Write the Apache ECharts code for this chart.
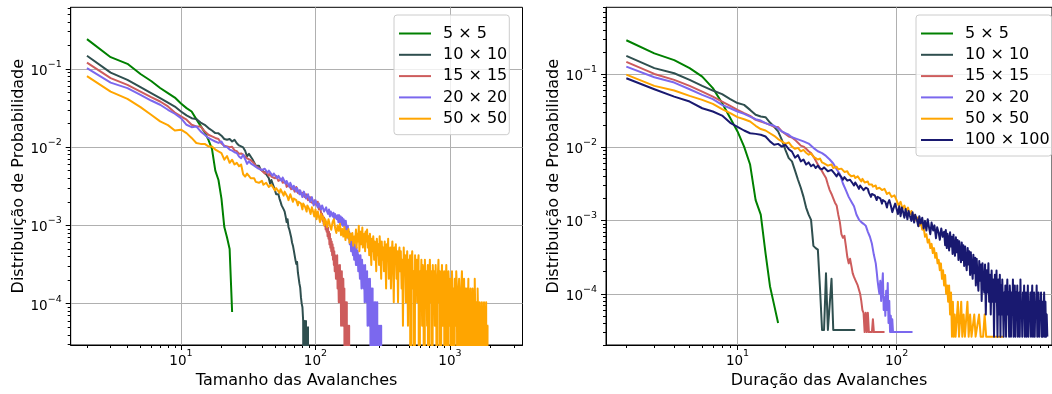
<!DOCTYPE html>
<html><head><meta charset="utf-8">
<script src="https://cdn.jsdelivr.net/npm/echarts@6/dist/echarts.min.js"></script>
<style>html,body{margin:0;padding:0;background:#fff}#c{width:1052px;height:394px}</style>
</head><body><div id="c"></div>
<script>
// ---------- DATA: [avalanche size / duration, probability]  (0 = empty bin) ----------
const L_5x5 = [[2,0.24],[3,0.141],[4,0.116],[5,0.086],[6,0.070],[7,0.057],[8,0.049],[9,0.043],[10,0.036],[11,0.0315],[12,0.0285],[13,0.0228],[14,0.0187],[15,0.0155],[16,0.0124],[17,0.0095],[18,0.0050],[19,0.0038],[20,0.0022],[21,0.00095],[22,0.00070],[23,0.00050],[24,0.000078]];
const L_10x10 = [[2,0.147],[3,0.0897],[4,0.0724],[5,0.0584],[6,0.049],[7,0.0423],[8,0.0371],[9,0.033],[10,0.0285],[11,0.0254],[12,0.0234],[13,0.0228],[14,0.0206],[15,0.0193],[16,0.0175],[17,0.0163],[18,0.0151],[19,0.0150],[20,0.0140],[21,0.0127],[22,0.0124],[23,0.0127],[24,0.0118],[25,0.0124],[26,0.0112],[27,0.0105],[28,0.0102],[29,0.0099],[30,0.0090],[31,0.0076],[32,0.0082],[33,0.0080],[34,0.0070],[35,0.0066],[36,0.0058],[37,0.0057],[38,0.0058],[39,0.0052],[40,0.0054],[41,0.0049],[42,0.0050],[43,0.0045],[44,0.0047],[45,0.0040],[46,0.0034],[47,0.0038],[48,0.0040],[49,0.0031],[50,0.0028],[51,0.0025],[52,0.0024],[53,0.0025],[54,0.0022],[55,0.0020],[56,0.0018],[57,0.0019],[58,0.0016],[59,0.0015],[60,0.0013],[61,0.0011],[62,0.0012],[63,0.00095],[64,0.00088],[65,0.0009],[66,0.0007],[67,0.0006],[68,0.00055],[69,0.00048],[70,0.0005],[71,0.00036],[72,0.00032],[73,0.00034],[74,0.00025],[75,0.00024],[76,0.00018],[77,0.00016],[78,0.00012],[79,0.0001],[80,0.00009],[81,0.00006],[82,0],[83,0.00006],[84,0],[85,0.00006],[86,0],[87,0],[88,0.00005],[89,0],[90,0]];
const L_15x15 = [[2,0.12],[3,0.076],[4,0.0625],[5,0.0513],[6,0.0435],[7,0.0383],[8,0.0331],[9,0.0277],[10,0.0247],[11,0.0224],[12,0.0193],[13,0.0184],[14,0.0184],[15,0.0159],[16,0.0144],[17,0.0137],[18,0.0131],[19,0.0127],[20,0.0111],[21,0.0104],[22,0.0102],[23,0.0100],[24,0.0101],[25,0.0091],[26,0.0089],[27,0.0082],[28,0.0083],[29,0.0080],[30,0.0076],[31,0.0072],[32,0.0071],[33,0.0068],[34,0.0070],[35,0.0062],[36,0.0057],[37,0.0058],[38,0.0054],[39,0.0056],[40,0.0050],[41,0.0052],[42,0.0046],[43,0.0049],[44,0.0048],[45,0.0043],[46,0.0046],[47,0.0042],[48,0.0044],[50,0.0040],[51,0.0043],[53,0.0037],[54,0.0036],[56,0.0039],[57,0.0035],[58,0.0034],[60,0.0036],[61,0.0031],[63,0.0033],[64,0.0034],[66,0.0029],[67,0.0030],[68,0.0031],[70,0.0027],[72,0.0031],[73,0.0028],[74,0.0026],[76,0.0028],[77,0.0025],[78,0.0024],[80,0.0026],[82,0.0025],[83,0.0023],[85,0.0025],[86,0.0024],[88,0.0021],[89,0.0022],[91,0.0023],[92,0.0020],[94,0.0021],[95,0.0020],[97,0.0019],[98,0.0021],[100,0.0021],[102,0.0018],[104,0.0020],[106,0.0016],[108,0.00175],
 [110,1.456e-3],[111,1.248e-3],[112,1.404e-3],[113,1.144e-3],[114,1.3e-3],[115,1.04e-3],[116,1.248e-3],[117,9.88e-4],[118,1.144e-3],[119,8.84e-4],[120,1.092e-3],[121,8.32e-4],[122,9.88e-4],[123,7.28e-4],[124,9.36e-4],[125,6.76e-4],[126,8.32e-4],[127,5.72e-4],[128,7.8e-4],[129,5.2e-4],[130,6.76e-4],[131,4.68e-4],[132,6.24e-4],[133,4.16e-4],[134,5.72e-4],[135,3.64e-4],[136,5.2e-4],[137,3.12e-4],[138,4.68e-4],[139,2.6e-4],[140,4.16e-4],[141,3.12e-4],[142,2.08e-4],[143,3.64e-4],[144,2.6e-4],[145,4.16e-4],[146,1.56e-4],[147,3.12e-4],[148,2.08e-4],[149,1.04e-4],[150,2.6e-4],[151,1.56e-4],[152,3.12e-4],[153,1.04e-4],[154,2.08e-4],[155,5.2e-5],[156,1.56e-4],[157,2.6e-4],[158,1.04e-4],[159,1.56e-4],[160,5.2e-5],[161,2.08e-4],[162,1.04e-4],[163,5.2e-5],[164,1.56e-4],[165,0],[166,1.04e-4],[167,5.2e-5],[168,1.04e-4],[169,0],[170,5.2e-5],[171,1.04e-4],[172,0],[173,5.2e-5],[174,0],[175,5.2e-5],[176,0],[177,0],[178,5.2e-5],[179,0]];
const L_20x20 = [[2,0.102],[3,0.0668],[4,0.0568],[5,0.0466],[6,0.0394],[7,0.0348],[8,0.030],[9,0.0267],[10,0.0235],[11,0.0193],[12,0.0180],[13,0.0184],[14,0.0159],[15,0.0144],[16,0.0131],[17,0.0124],[18,0.0118],[19,0.0113],[20,0.0118],[21,0.0102],[22,0.0100],[23,0.0093],[24,0.0090],[25,0.0086],[26,0.0084],[27,0.0076],[28,0.0072],[29,0.0080],[30,0.0070],[31,0.0061],[32,0.0066],[33,0.0062],[34,0.0065],[35,0.0058],[36,0.0057],[37,0.0054],[38,0.0056],[40,0.0051],[41,0.0054],[42,0.0053],[44,0.0047],[45,0.0050],[46,0.0049],[48,0.0043],[49,0.0046],[50,0.0045],[52,0.0040],[53,0.0043],[54,0.0042],[56,0.0037],[57,0.0041],[58,0.0040],[60,0.0034],[61,0.0037],[62,0.0036],[64,0.0031],[65,0.0035],[66,0.0034],[68,0.0029],[69,0.0032],[70,0.0031],[72,0.0027],[73,0.0030],[74,0.0029],[76,0.0025],[77,0.0028],[78,0.0027],[80,0.0023],[82,0.0027],[83,0.0026],[85,0.0022],[86,0.0021],[88,0.0025],[89,0.0024],[91,0.0020],[92,0.0021],[94,0.0023],[95,0.0022],[97,0.0018],[98,0.0019],[100,0.0021],[102,0.0019],[104,0.0017],[106,0.0019],[108,0.0018],[110,0.0016],[112,0.0018],[114,0.0017],[116,0.0015],[118,0.0016],[120,0.0017],[122,0.0015],[124,0.0014],[126,0.0016],[128,0.0013],[130,0.0015],[132,0.0014],[134,0.0013],[136,0.00145],[138,0.0012],[140,0.0014],[142,0.0013],[144,0.0012],[146,0.00135],[148,0.0011],
 [150,1.352e-3],[152,1.092e-3],[154,1.3e-3],[156,1.04e-3],[158,1.248e-3],[160,9.88e-4],[162,1.196e-3],[164,1.092e-3],[166,8.84e-4],[168,1.144e-3],[170,9.36e-4],[172,7.8e-4],[174,9.88e-4],[176,6.76e-4],[178,8.32e-4],
 [180,5.72e-4],[182,7.8e-4],[184,4.68e-4],[186,6.76e-4],[188,5.2e-4],[190,4.16e-4],[192,6.24e-4],[194,3.64e-4],[196,5.72e-4],[198,4.16e-4],[200,3.12e-4],[202,5.2e-4],[204,3.12e-4],[206,4.68e-4],[208,2.6e-4],[210,4.16e-4],[212,3.12e-4],[214,2.08e-4],[216,4.16e-4],[218,2.6e-4],[220,1.56e-4],[222,3.64e-4],[224,2.08e-4],[226,3.12e-4],[228,1.56e-4],[230,2.6e-4],[232,1.04e-4],[234,3.12e-4],[236,1.56e-4],[238,2.08e-4],[240,1.04e-4],[242,2.6e-4],[244,5.2e-5],[246,2.08e-4],[248,1.04e-4],[250,1.56e-4],[252,5.2e-5],[254,2.08e-4],[256,1.04e-4],[258,0],[260,1.56e-4],[262,5.2e-5],[264,1.04e-4],[266,1.56e-4],[268,0],[270,1.04e-4],[272,5.2e-5],[274,1.04e-4],[276,0],[278,5.2e-5],[280,1.04e-4],[282,0],[284,5.2e-5],[286,0],[288,1.04e-4],[290,0],[292,5.2e-5],[294,0],[296,5.2e-5],[298,0],[300,0],[302,5.2e-5],[304,0],[306,0],[308,5.2e-5],[310,0],[312,0]];
const L_50x50 = [[2,0.0807],[3,0.0513],[4,0.0414],[5,0.0324],[6,0.0259],[7,0.0213],[8,0.0191],[9,0.0163],[10,0.0167],[11,0.0151],[12,0.0131],[13,0.0113],[14,0.0110],[15,0.0110],[16,0.0102],[17,0.0102],[18,0.0093],[19,0.0088],[20,0.0084],[21,0.0069],[22,0.0077],[23,0.0063],[24,0.0069],[25,0.0060],[26,0.0063],[27,0.0057],[28,0.0060],[29,0.0045],[30,0.0042],[31,0.0046],[32,0.0043],[33,0.0040],[34,0.0038],[35,0.0040],[36,0.0036],[37,0.0038],[38,0.0035],[39,0.0036],[40,0.0037],[41,0.0033],[42,0.0032],[43,0.0035],[44,0.0034],[45,0.0031],[46,0.0030],[47,0.0033],[48,0.0032],[50,0.0028],[51,0.0030],[52,0.0031],[54,0.0026],[55,0.0029],[56,0.0028],[58,0.0024],[59,0.0027],[60,0.0026],[62,0.0023],[63,0.0021],[65,0.0025],[66,0.0024],[68,0.0020],[69,0.0022],[71,0.0023],[72,0.0021],[74,0.0018],[75,0.0020],[77,0.0021],[78,0.0019],[80,0.0016],[81,0.0019],[83,0.0020],[84,0.0017],[86,0.0015],[87,0.0018],[89,0.0019],[90,0.0016],[92,0.0014],[94,0.0017],[96,0.0015],[98,0.0013],[100,0.0016],[102,0.0012],[104,0.0015],[106,0.0013],[108,0.0011],[110,0.0014],[112,0.0012],[114,0.0013],[116,0.0010],[118,0.0012],[120,0.0011],[122,0.00095],[125,0.0012],[128,0.0010],[131,0.00088],[134,0.0011],[137,0.0012],[140,0.00092],[143,0.0008],[146,0.001],[149,0.00085],[152,0.00105],[155,0.00075],[158,0.0009],[161,0.00072],[164,0.00095],[167,0.00065],[170,0.00085],[173,0.0007],[176,0.0009],[179,0.0006],[182,0.00078],[185,0.00065],[188,0.0008],[191,0.00055],[194,0.00072],[197,0.0006],
 [200,8.84e-4],[202,5.2e-4],[205,7.8e-4],[207,6.24e-4],[210,9.88e-4],[212,4.68e-4],[215,7.28e-4],[217,8.32e-4],[220,5.72e-4],[223,9.36e-4],[225,5.2e-4],[228,6.76e-4],[231,7.8e-4],[234,4.68e-4],[236,8.32e-4],[239,6.24e-4],[242,8.84e-4],[245,5.2e-4],[248,7.28e-4],
 [251,4.16e-4],[254,7.8e-4],[257,5.72e-4],[260,3.12e-4],[263,6.76e-4],[266,4.68e-4],[269,7.28e-4],[273,3.64e-4],[276,6.24e-4],[279,5.2e-4],[283,2.6e-4],[286,6.76e-4],[290,4.16e-4],[293,5.72e-4],[297,3.12e-4],[300,7.28e-4],[304,4.68e-4],[308,2.08e-4],[311,6.24e-4],[315,3.64e-4],[319,5.2e-4],
 [323,2.6e-4],[327,6.24e-4],[331,4.16e-4],[335,1.56e-4],[339,5.72e-4],[343,3.64e-4],[347,6.76e-4],[351,2.08e-4],[356,4.68e-4],[360,5.2e-4],[364,1.56e-4],[369,4.16e-4],[373,6.24e-4],[378,3.12e-4],[382,1.04e-4],[387,5.2e-4],[392,3.64e-4],[396,5.72e-4],[401,2.08e-4],[406,4.68e-4],[411,1.04e-4],[416,4.16e-4],[421,5.2e-4],[426,2.6e-4],
 [431,4.68e-4],[437,1.56e-4],[442,3.64e-4],[447,5.2e-5],[453,5.2e-4],[458,2.6e-4],[464,4.16e-4],[470,1.04e-4],[475,3.12e-4],[481,4.68e-4],[487,5.2e-5],[493,3.64e-4],[499,2.08e-4],[505,4.16e-4],[511,0],[517,3.12e-4],[524,4.68e-4],[530,1.56e-4],[537,2.6e-4],[543,0],[550,4.16e-4],[557,2.08e-4],[563,3.64e-4],
 [570,1.04e-4],[577,3.12e-4],[584,4.16e-4],[591,0],[599,2.6e-4],[606,1.56e-4],[613,3.64e-4],[621,5.2e-5],[628,3.12e-4],[636,2.08e-4],[644,0],[651,3.64e-4],[659,1.56e-4],[667,2.6e-4],[676,5.2e-5],[684,3.12e-4],[692,0],[701,2.08e-4],[709,3.64e-4],[718,1.04e-4],[727,2.6e-4],[736,0],[745,3.12e-4],[754,1.56e-4],
 [763,2.6e-4],[772,5.2e-5],[782,3.12e-4],[791,1.56e-4],[801,0],[811,2.08e-4],[821,3.64e-4],[831,1.04e-4],[841,2.6e-4],[851,0],[862,1.56e-4],[872,3.12e-4],[883,5.2e-5],[894,2.08e-4],[905,2.6e-4],[916,0],[927,1.56e-4],[939,3.12e-4],[950,1.04e-4],[962,0],[974,2.6e-4],[986,1.56e-4],[998,5.2e-5],
 [1010,2.08e-4],[1022,0],[1035,2.6e-4],[1047,1.04e-4],[1060,1.56e-4],[1073,0],[1086,2.08e-4],[1100,5.2e-5],[1113,2.6e-4],[1127,1.56e-4],[1141,0],[1155,1.04e-4],[1169,2.08e-4],[1183,5.2e-5],[1198,0],[1212,1.56e-4],[1227,2.6e-4],[1242,1.04e-4],[1258,0],[1273,2.08e-4],[1289,5.2e-5],[1304,1.56e-4],[1320,0],
 [1337,1.56e-4],[1353,5.2e-5],[1370,2.08e-4],[1386,0],[1403,1.04e-4],[1421,1.56e-4],[1438,0],[1456,5.2e-5],[1473,1.56e-4],[1491,1.04e-4],[1510,0],[1528,2.08e-4],[1547,5.2e-5],[1566,1.04e-4],[1585,0],[1605,1.56e-4],[1624,5.2e-5],[1644,0],[1664,1.04e-4],[1685,5.2e-5],[1705,0],[1726,1.04e-4],[1748,5.2e-5],[1769,0],
 [1791,1.04e-4],[1813,0],[1835,5.2e-5],[1858,1.04e-4],[1880,0],[1903,5.2e-5],[1930,5.2e-5]];

const R_5x5 = [[2,0.288],[3,0.191],[4,0.154],[5,0.12],[6,0.092],[7,0.064],[8,0.040],[9,0.025],[10,0.0164],[11,0.0102],[12,0.0058],[13,0.0019],[14,0.0012],[15,0.00036],[16,0.000127],[17,0.00007],[18,0.00004]];
const R_10x10 = [[2,0.176],[3,0.12],[4,0.102],[5,0.083],[6,0.0687],[7,0.0593],[8,0.0529],[9,0.0452],[10,0.040],[11,0.0378],[12,0.0323],[13,0.0277],[14,0.0262],[15,0.0257],[16,0.0217],[17,0.019],[18,0.0164],[19,0.0126],[20,0.0092],[21,0.0071],[22,0.0064],[23,0.0048],[24,0.0036],[25,0.0028],[26,0.0021],[27,0.0015],[28,0.0012],[29,0.00102],[30,0.00045],[31,0.00042],[32,0.0004],[33,0.00012],[34,0.000032],[35,0.000032],[36,0.00019],[37,0.000032],[38,0.000032],[39,0.00016],[40,0.000032],[55,0.000032]];
const R_15x15 = [[2,0.146],[3,0.1],[4,0.083],[5,0.0687],[6,0.0574],[7,0.049],[8,0.042],[9,0.0366],[10,0.0323],[11,0.0291],[12,0.0268],[13,0.0236],[14,0.0224],[15,0.0213],[16,0.0202],[17,0.019],[18,0.0188],[19,0.0164],[20,0.0152],[21,0.014],[22,0.0136],[23,0.0126],[24,0.0115],[25,0.0105],[26,0.0102],[27,0.0095],[28,0.0088],[29,0.0083],[30,0.0075],[31,0.0066],[32,0.0058],[33,0.0052],[34,0.0047],[35,0.0042],[36,0.0038],[37,0.0031],[38,0.0026],[39,0.0023],[40,0.0020],[41,0.00175],[42,0.0016],[43,0.0012],[44,0.00095],[45,0.00065],[46,0.00058],[47,0.00062],[48,0.00045],[49,0.00032],[50,0.00026],[51,0.0003],[52,0.00024],[53,0.00019],[54,0.00017],[55,0.000155],[56,0.00015],[57,0.00013],[58,0.000126],[59,0.0001],[60,0.00008],[61,0.00006],[62,0.000055],[63,0.00003],[64,0.000055],[65,0.00003],[66,0.000055],[67,0.00003],[70,0.00003],[71,0.000045],[72,0.00003],[84,0.00003]];
const R_20x20 = [[2,0.126],[3,0.0902],[4,0.0762],[5,0.0618],[6,0.0517],[7,0.0452],[8,0.0378],[9,0.034],[10,0.0307],[11,0.0285],[12,0.0262],[13,0.0241],[14,0.0231],[15,0.0213],[16,0.0202],[17,0.0196],[18,0.0182],[19,0.0164],[20,0.0155],[21,0.0148],[22,0.0137],[24,0.0128],[26,0.0120],[28,0.0112],[30,0.0098],[32,0.0088],[34,0.0083],[36,0.0076],[38,0.0068],[40,0.0060],[42,0.0050],[44,0.0043],[46,0.0032],[48,0.0026],[50,0.0021],[52,0.0018],[54,0.00156],[56,0.0012],[58,0.00103],[60,0.00095],[62,0.0009],[64,0.00085],[66,0.0007],[68,0.0006],[70,0.00048],[72,0.00034],[74,0.00026],[75,0.0002],[76,0.00015],[77,0.00012],[78,0.0001],[79,0.00015],[80,0.00008],[81,0.00012],[82,0.00019],[83,0.00006],[84,0.00009],[85,0.00005],[86,0.00011],[87,0.00006],[88,0.00014],[89,0.00004],[90,0.00008],[91,0.00003],[92,0.00005],[93,0.00003],[94,0.000045],[95,0.00003],[126,0.00003]];
const R_50x50 = [[2,0.098],[3,0.0687],[4,0.0593],[5,0.0502],[6,0.0443],[7,0.039],[8,0.033],[9,0.0291],[10,0.0257],[11,0.0241],[12,0.0224],[13,0.0196],[14,0.0177],[15,0.0169],[16,0.0155],[17,0.0143],[18,0.0129],[19,0.012],[20,0.0111],[21,0.0116],[22,0.0102],[23,0.0095],[24,0.0098],[25,0.0088],[26,0.0092],[27,0.0084],[28,0.0079],[29,0.0082],[30,0.0074],[31,0.0071],[32,0.0068],[33,0.0070],[34,0.0062],[35,0.0060],[36,0.0063],[37,0.0056],[38,0.0055],[39,0.0058],[40,0.0052],[41,0.0055],[42,0.0054],[43,0.0050],[44,0.0048],[45,0.0051],[46,0.0050],[47,0.0046],[48,0.0044],[49,0.0047],[50,0.0043],[51,0.0045],[52,0.0040],[53,0.0042],[54,0.0041],[55,0.0038],[56,0.0037],[57,0.0040],[58,0.0039],[60,0.0034],[61,0.0037],[62,0.0036],[63,0.0033],[64,0.0032],[66,0.0034],[67,0.0031],[68,0.0030],[70,0.0031],[71,0.0029],[72,0.0028],[74,0.0030],[75,0.0027],[77,0.0026],[78,0.0028],[80,0.0029],[81,0.0026],[83,0.0025],[84,0.0027],[86,0.0026],[87,0.0023],[89,0.0022],[90,0.0024],[92,0.0024],[93,0.0021],[95,0.0020],[97,0.0022],[98,0.0021],[100,0.0019],[103,0.0016],[106,0.0018],[109,0.00145],[112,0.0016],[115,0.00135],[118,0.0015],[121,0.0012],[124,0.00135],[127,0.00105],[130,0.0012],[133,0.001],[136,0.0011],[139,0.00085],[142,0.00095],[145,0.00075],[148,0.0008],[151,0.0006],[154,0.00065],[157,0.0005],[160,0.00055],[163,0.00042],[166,0.00048],[169,0.00036],[172,0.00042],[175,0.00031],[178,0.00036],[181,0.00026],[184,0.00029],[187,0.00021],[190,0.00026],[193,0.00016],[196,0.00021],[199,0.00013],[202,0.00018],[205,0.0001],[208,0.00013],[211,0.000078],[214,0.00013],[217,0.000052],[220,0.000104],[223,0.000026],[226,0.000078],[229,0.000026],[232,0.000052],[235,0.000026],[239,0.000026],[243,0.000078],[247,0.000026],[251,0.000026],[255,0.000078],[259,0.000026],[264,0.000052],[269,0.000026],[274,0.000026],[279,0.000078],[284,0.000026],[290,0.000052],[296,0.000026],[302,0.000026],[308,0.000052],[314,0.000026],[322,0.000026],[330,0.000052],[338,0.000026],[350,0.000026],[358,0.000052],[366,0.000026],[470,0.000026]];
const R_100x100 = [[2,0.0873],[3,0.0618],[4,0.049],[5,0.042],[6,0.034],[7,0.0307],[8,0.027],[9,0.0215],[10,0.019],[11,0.0169],[12,0.0155],[13,0.0152],[14,0.0148],[15,0.014],[16,0.012],[17,0.0108],[18,0.0111],[19,0.0102],[20,0.0108],[21,0.0094],[22,0.0087],[23,0.0072],[24,0.0078],[25,0.0064],[26,0.0068],[27,0.0058],[28,0.0062],[29,0.0055],[30,0.0058],[31,0.0052],[32,0.0056],[33,0.0051],[34,0.0050],[35,0.0053],[36,0.0052],[37,0.0047],[38,0.0046],[39,0.0049],[40,0.0048],[41,0.0043],[42,0.0040],[43,0.0044],[44,0.0043],[45,0.0039],[46,0.0036],[47,0.0039],[48,0.0038],[49,0.0035],[50,0.0033],[51,0.0036],[52,0.0036],[53,0.0032],[54,0.0030],[55,0.0033],[56,0.0032],[57,0.0029],[58,0.0027],[59,0.0030],[60,0.0029],[62,0.0026],[63,0.0025],[64,0.0028],[66,0.0027],[67,0.0024],[69,0.0021],[70,0.0023],[72,0.0024],[73,0.0022],[75,0.0019],[76,0.0021],[78,0.0022],[79,0.0020],[81,0.0017],[82,0.0019],[84,0.0020],[85,0.0018],[87,0.0015],[88,0.0017],[90,0.0019],[92,0.0016],[94,0.0013],[96,0.0015],[98,0.0017],
 [100,1.716e-3],[102,1.222e-3],[104,1.56e-3],[106,1.144e-3],[108,1.508e-3],[110,1.3e-3],[112,1.092e-3],[114,1.43e-3],[117,1.04e-3],[119,1.352e-3],[121,1.17e-3],[124,9.88e-4],[126,1.3e-3],[129,9.36e-4],[131,1.196e-3],[134,1.04e-3],[137,8.32e-4],[139,1.144e-3],[142,9.1e-4],[145,1.092e-3],[148,7.8e-4],[151,9.88e-4],[154,7.28e-4],[157,1.04e-3],[160,8.06e-4],[163,6.5e-4],[166,9.36e-4],[170,7.28e-4],[173,8.58e-4],[177,5.72e-4],[180,8.06e-4],[184,6.76e-4],[187,5.46e-4],[191,7.8e-4],[195,5.98e-4],[199,7.02e-4],
 [202,4.6e-4],[204,7.4e-4],[207,4.2e-4],[209,6.6e-4],[212,5.6e-4],[214,3.9e-4],[217,6.9e-4],[220,4.4e-4],[222,6.0e-4],[225,3.5e-4],[228,6.4e-4],[230,4.2e-4],[233,3.3e-4],[236,5.9e-4],[239,3.7e-4],[242,5.4e-4],[245,2.9e-4],[248,5.2e-4],[251,3.5e-4],[254,2.7e-4],[257,5.0e-4],[260,2.9e-4],[263,4.6e-4],[266,2.4e-4],[270,4.4e-4],[273,2.7e-4],[276,2.1e-4],[280,4.2e-4],[283,2.5e-4],[286,3.8e-4],[290,1.8e-4],[293,3.7e-4],[297,2.2e-4],[301,1.6e-4],[304,3.4e-4],[308,1.9e-4],[312,3.1e-4],[315,1.3e-4],[319,3.0e-4],[323,1.7e-4],[327,1.1e-4],[331,2.8e-4],[335,1.5e-4],[339,2.5e-4],[343,8.0e-5],[347,2.6e-4],[352,1.3e-4],[356,1.04e-4],[360,2.5e-4],[364,5.2e-5],[369,2.1e-4],[373,1.04e-4],[378,2.6e-4],[382,7.8e-5],[387,1.82e-4],[391,5.2e-5],[396,2.08e-4],[401,7.8e-5],[406,1.56e-4],[410,2.6e-5],[415,1.82e-4],[420,7.8e-5],[425,2.08e-4],[431,2.6e-5],[436,1.56e-4],[441,5.2e-5],[446,1.82e-4],
 [450,2.6e-5],[454,1.3e-4],[458,5.2e-5],[462,1.56e-4],[466,7.8e-5],[471,2.6e-5],[475,1.04e-4],[479,5.2e-5],[483,1.3e-4],[488,2.6e-5],[492,7.8e-5],[497,1.56e-4],[501,5.2e-5],[506,1.04e-4],[510,2.6e-5],[515,1.3e-4],[520,7.8e-5],[524,2.6e-5],[529,1.04e-4],[534,5.2e-5],[539,1.56e-4],[544,2.6e-5],[549,7.8e-5],[554,1.3e-4],[559,2.6e-5],[564,1.04e-4],[569,5.2e-5],[574,1.3e-4],[579,2.6e-5],[585,7.8e-5],[590,1.04e-4],[595,2.6e-5],[601,1.56e-4],[606,5.2e-5],[612,7.8e-5],[617,2.6e-5],[623,1.04e-4],[628,5.2e-5],[634,1.3e-4],[640,2.6e-5],[646,7.8e-5],[651,1.04e-4],[657,2.6e-5],[663,5.2e-5],[669,1.3e-4],[675,2.6e-5],[682,7.8e-5],[688,5.2e-5],[694,1.04e-4],[700,2.6e-5],[707,7.8e-5],[713,1.3e-4],[720,2.6e-5],[726,5.2e-5],[733,1.04e-4],[739,2.6e-5],[746,7.8e-5],[753,5.2e-5],[760,1.3e-4],[767,2.6e-5],[774,5.2e-5],[781,1.04e-4],[788,2.6e-5],[795,7.8e-5],[802,5.2e-5],[810,1.04e-4],[817,2.6e-5],[824,7.8e-5],[832,2.6e-5],[839,5.2e-5],[847,1.04e-4],[855,2.6e-5],[863,7.8e-5],[871,2.6e-5],[879,5.2e-5],[887,2.6e-5]];

const seriesNamesLeft = ['5 × 5','10 × 10','15 × 15','20 × 20','50 × 50'];
const seriesNamesRight = ['5 × 5','10 × 10','15 × 15','20 × 20','50 × 50','100 × 100'];
const xTitles = ['Tamanho das Avalanches','Duração das Avalanches'];
const yTitle = 'Distribuição de Probabilidade';

// tick values
const xMajorL = [10,100,1000];
const xMinorL = [2,3,4,5,6,7,8,9,20,30,40,50,60,70,80,90,200,300,400,500,600,700,800,900,2000,3000];
const xMajorR = [10,100];
const xMinorR = [2,3,4,5,6,7,8,9,20,30,40,50,60,70,80,90,200,300,400,500,600,700,800,900];
const yMajor = [0.0001,0.001,0.01,0.1];
const yMinorL = [3e-5,4e-5,5e-5,6e-5,7e-5,8e-5,9e-5,2e-4,3e-4,4e-4,5e-4,6e-4,7e-4,8e-4,9e-4,2e-3,3e-3,4e-3,5e-3,6e-3,7e-3,8e-3,9e-3,0.02,0.03,0.04,0.05,0.06,0.07,0.08,0.09,0.2,0.3,0.4,0.5,0.6];
const yMinorR = [2e-5,3e-5,4e-5,5e-5,6e-5,7e-5,8e-5,9e-5,2e-4,3e-4,4e-4,5e-4,6e-4,7e-4,8e-4,9e-4,2e-3,3e-3,4e-3,5e-3,6e-3,7e-3,8e-3,9e-3,0.02,0.03,0.04,0.05,0.06,0.07,0.08,0.09,0.2,0.3,0.4,0.5,0.6,0.7,0.8];

// ---------- STYLE ----------
const COL = {'5 × 5':'#008000','10 × 10':'#2f4f4f','15 × 15':'#cd5c5c','20 × 20':'#7b68ee','50 × 50':'#ffa500','100 × 100':'#191970'};
const FONT = 'DejaVu Sans';
function powLabel(v){ const e = Math.round(Math.log10(v)); return '{b|10}{s|' + String(e).replace('-', '\u2212') + '}'; }
const RICH = {b:{fontFamily:FONT, fontSize:13.5, color:'#000', padding:[5,0,0,0], verticalAlign:'bottom'},
              s:{fontFamily:FONT, fontSize:9.5, color:'#000', verticalAlign:'top'}};
function clipZero(arr){ return arr.map(p => [p[0], p[1] > 0 ? p[1] : 1e-9]); }

const G = [
  {left:70.7, top:7.3, width:451.8, height:338.4, xmin:1.514, xmax:3461, ymin:2.96e-5, ymax:0.612},
  {left:606, top:7.3, width:457, height:338.4, xmin:1.49, xmax:949, ymin:2.0e-5, ymax:0.811}
];

function mainX(i, majors){
  return {type:'log', gridIndex:i, min:G[i].xmin, max:G[i].xmax, position:'bottom',
    name:xTitles[i], nameLocation:'middle', nameGap:28,
    nameTextStyle:{fontFamily:FONT, fontSize:16, color:'#000'},
    axisLine:{show:true, onZero:false, lineStyle:{color:'#000', width:1}},
    axisTick:{show:true, inside:false, length:5, customValues:majors, lineStyle:{color:'#000', width:1}},
    axisLabel:{show:true, customValues:majors, formatter:powLabel, margin:4, rich:RICH, fontFamily:FONT, color:'#000'},
    splitLine:{show:true, lineStyle:{color:'#b0b0b0', width:1}},
    minorTick:{show:false}, minorSplitLine:{show:false}};
}
function minorX(i, minors){
  return {type:'log', gridIndex:i, min:G[i].xmin, max:G[i].xmax, position:'bottom',
    axisLine:{show:false}, axisLabel:{show:false}, splitLine:{show:false},
    axisTick:{show:true, inside:false, length:3, customValues:minors, lineStyle:{color:'#000', width:1}}};
}
function mainY(i, majors){
  return {type:'log', gridIndex:i, min:G[i].ymin, max:G[i].ymax, position:'left',
    name:yTitle, nameLocation:'middle', nameGap:43, nameRotate:90,
    nameTextStyle:{fontFamily:FONT, fontSize:16, color:'#000'},
    axisLine:{show:true, onZero:false, lineStyle:{color:'#000', width:1}},
    axisTick:{show:true, inside:false, length:5, customValues:majors, lineStyle:{color:'#000', width:1}},
    axisLabel:{show:true, customValues:majors, formatter:powLabel, margin:9, rich:RICH, fontFamily:FONT, color:'#000'},
    splitLine:{show:true, lineStyle:{color:'#b0b0b0', width:1}},
    minorTick:{show:false}, minorSplitLine:{show:false}};
}
function minorY(i, minors){
  return {type:'log', gridIndex:i, min:G[i].ymin, max:G[i].ymax, position:'left',
    axisLine:{show:false}, axisLabel:{show:false}, splitLine:{show:false},
    axisTick:{show:true, inside:false, length:3, customValues:minors, lineStyle:{color:'#000', width:1}}};
}

function mkSeries(name, data, gi){
  return {type:'line', name:name, data:clipZero(data), xAxisIndex:gi*2, yAxisIndex:gi*2,
    showSymbol:false, symbol:'none', clip:true, animation:false,
    color:COL[name], lineStyle:{color:COL[name], width:2, join:'round'}};
}

const leftData = [L_5x5, L_10x10, L_15x15, L_20x20, L_50x50];
const rightData = [R_5x5, R_10x10, R_15x15, R_20x20, R_50x50, R_100x100];
const series = [];
seriesNamesLeft.forEach((n, k) => series.push(mkSeries(n, leftData[k], 0)));
seriesNamesRight.forEach((n, k) => series.push(mkSeries(n, rightData[k], 1)));

function mkLegend(names, left, top){
  return {show:true, orient:'vertical', left:left, top:top, data:names.map(n => ({name:n, icon:'rect'})),
    itemWidth:32, itemHeight:2, itemGap:1.3, selectedMode:false,
    padding:[8.5,2,6,5], backgroundColor:'rgba(255,255,255,0.8)', borderColor:'#cccccc', borderWidth:1, borderRadius:3,
    formatter: n => '{t|' + n + '}',
    textStyle:{fontFamily:FONT, fontSize:16, color:'#000', lineHeight:20,
      rich:{t:{fontFamily:FONT, fontSize:16, color:'#000', lineHeight:20, padding:[0,0,0,7]}}}};
}

const chart = echarts.init(document.getElementById('c'), null, {renderer:'canvas'});
chart.setOption({
  animation:false,
  backgroundColor:'#fff',
  grid: G.map(g => ({left:g.left, top:g.top, width:g.width, height:g.height, show:true, borderColor:'#000', borderWidth:1, backgroundColor:'rgba(0,0,0,0)', containLabel:false})),
  xAxis:[mainX(0, xMajorL), minorX(0, xMinorL), mainX(1, xMajorR), minorX(1, xMinorR)],
  yAxis:[mainY(0, yMajor), minorY(0, yMinorL), mainY(1, yMajor), minorY(1, yMinorR)],
  legend:[mkLegend(seriesNamesLeft, 394, 15), mkLegend(seriesNamesRight, 916, 15)],
  series: series
});
</script></body></html>
